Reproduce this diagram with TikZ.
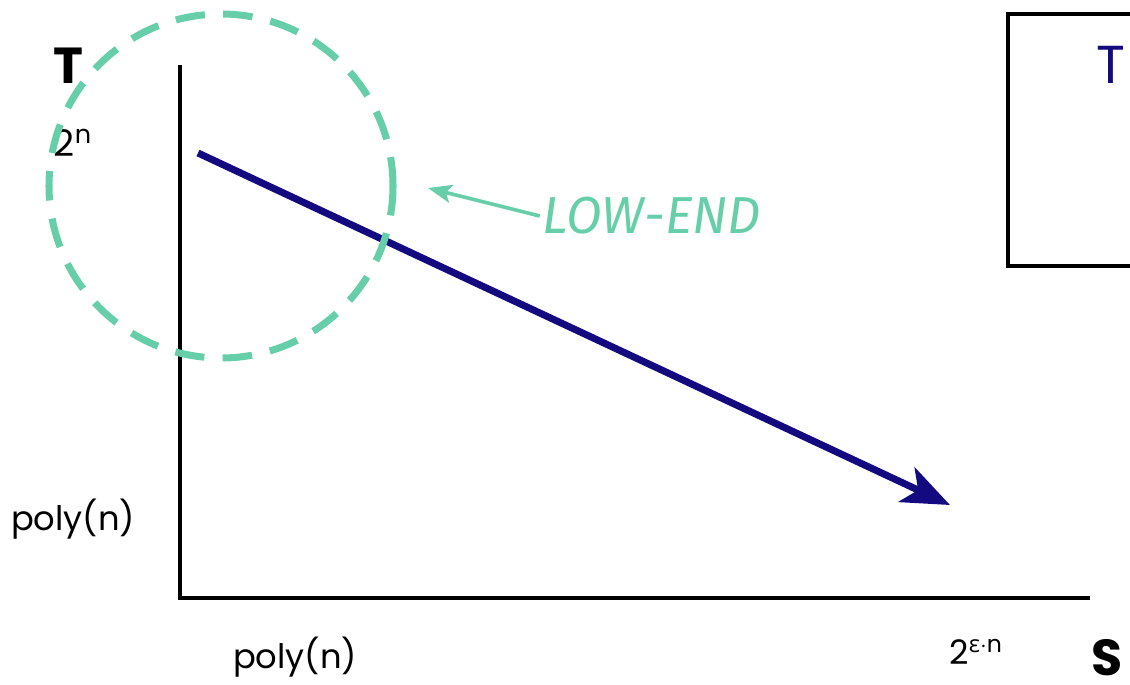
\documentclass[tikz,border=0pt]{standalone}
\usepackage{fontspec}
\setmainfont{Poppins}
\newfontfamily\greekfont{Open Sans}
\newfontfamily\handfont{Fira Sans}
\usetikzlibrary{arrows.meta}
\definecolor{navy}{HTML}{140A80}
\definecolor{mint}{HTML}{66CFA9}

\begin{document}
\begin{tikzpicture}[
        x=0.025cm, y=-0.025cm,
        axis/.style={draw, line width=3.5pt},
        tick/.style={inner sep=0pt, font=\fontsize{24}{28}\selectfont},
        axisname/.style={inner sep=0pt, font=\fontsize{36}{40}\selectfont\bfseries},
        trend/.style={draw=navy, line width=5pt, -{Stealth[length=34pt, width=27pt, inset=9pt]}},
        pointer/.style={draw=mint, line width=2.6pt, -{Stealth[length=17pt, width=13pt, inset=4pt]}},
        zone/.style={draw=mint, line width=5pt, dash pattern=on 21pt off 13pt}
    ]
        \useasboundingbox (0,0) rectangle (1130,684);

        \coordinate (o) at (180,598);
        \coordinate (ytop) at (180,65);
        \coordinate (xend) at (1090,598);
        \draw[axis] (ytop) |- (xend);

        \node[axisname] (tname) at (68,66) {T};
        \node[axisname] (sname) at (1107,658) {S};

        \node[tick] (texp) at (73,143) {\fontsize{26}{28}\selectfont 2\textsuperscript{n}};
        \node[tick] (tpoly) at (73,519) {poly(n)};
        \node[tick] (spoly) at (295,657) {poly(n)};
        \node[tick] (sexp) at (976,652) {2\textsuperscript{{\greekfont ε}$\cdot$n}};

        % tradeoff line
        \coordinate (start) at (198,153);
        \coordinate (finish) at (950,505);
        \draw[trend] (start) -- (finish);

        % low end of the line
        \coordinate (lowzone) at (221,186);
        \draw[zone] (lowzone) circle[radius=172];
        \node[text=mint, inner sep=2pt, font=\handfont\itshape\fontsize{37}{40}\selectfont] (lowlabel) at (652,216) {LOW-END};
        \coordinate (lowtip) at (428,188);
        \draw[pointer] (lowlabel.west) -- (lowtip);

        % box at the right
        \draw[line width=2.2pt] (1130,14) -- (1008,14) -- (1008,266) -- (1130,266);
        \node[text=navy, inner sep=0pt, font=\fontsize{38}{42}\selectfont] (boxt) at (1111,65) {T};
    \end{tikzpicture}
\end{document}
